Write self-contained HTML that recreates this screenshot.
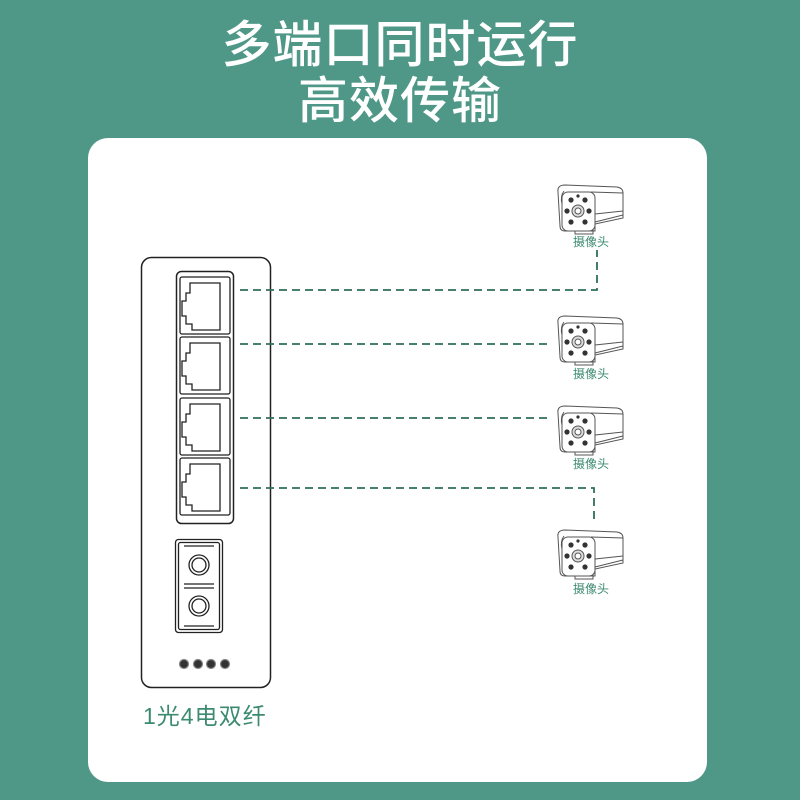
<!DOCTYPE html>
<html><head><meta charset="utf-8"><style>
body{margin:0;width:800px;height:800px;background:#4f9888;overflow:hidden;font-family:"Liberation Sans","Noto Sans CJK SC",sans-serif}
.t{position:absolute;left:0;width:800px;text-align:center;color:#fff;font-size:50px;font-weight:500;letter-spacing:1px;line-height:56px}
.card{position:absolute;left:88px;top:138px;width:619px;height:644px;background:#fff;border-radius:20px}
svg{position:absolute;left:0;top:0}
.lab{font-family:"Liberation Sans","Noto Sans CJK SC",sans-serif;fill:#3c8a70;font-size:12px}
</style></head><body>
<div class="t" style="top:17px">多端口同时运行</div>
<div class="t" style="top:73px">高效传输</div>
<div class="card"></div>
<svg width="800" height="800" viewBox="0 0 800 800">
<defs>
<g id="cam" fill="#fff" stroke="#555" stroke-width="1">
<path d="M3 8 Q2 1 10 1 L62 3 Q68 4 68 9 L68 34 L40 40 L40 47 L10 47 Q5 47 5 42 Z"/>
<path d="M36 8 L68 9 M40 38 L68 31 M40 30 L68 27" fill="none"/>
<path d="M20 47 L20 50 L38 50 L38 45" fill="none"/>
<rect x="7" y="8" width="33" height="39" rx="6"/>
<path d="M9 7 Q5 12 7 20" fill="none"/>
<circle cx="23" cy="27" r="6" fill="#ddd"/>
<circle cx="23" cy="27" r="3" fill="#fff"/>
<g fill="#333" stroke="none">
<circle cx="16" cy="16" r="2.6"/><circle cx="30" cy="16" r="2.6"/>
<circle cx="12" cy="27" r="2.6"/><circle cx="34" cy="27" r="2.6"/>
<circle cx="16" cy="38" r="2.6"/><circle cx="30" cy="38" r="2.6"/>
<circle cx="23" cy="12" r="1.6"/>
</g>
</g>
<g id="port" fill="none" stroke="#222" stroke-width="1.3">
<rect x="180" y="277" width="50" height="57" rx="2"/>
<path d="M190 283 L220 283 L220 330 L192 330 L192 324 L186 324 L186 316 L182 316 L182 301 L186 301 L186 293 L190 293 Z"/>
</g>
</defs>
<!-- device -->
<rect x="141.5" y="257.5" width="129" height="430" rx="10" fill="#fff" stroke="#222" stroke-width="1.5"/>
<rect x="176.5" y="271.5" width="57" height="252" rx="5" fill="#fff" stroke="#222" stroke-width="1.5"/>
<use href="#port"/>
<use href="#port" y="60"/>
<use href="#port" y="121"/>
<use href="#port" y="181"/>
<g fill="none" stroke="#222" stroke-width="1.3">
<rect x="175.5" y="539.5" width="47" height="93" rx="3"/>
<rect x="178.5" y="542.5" width="41" height="87" rx="2"/>
<path d="M184 546 L214 546 M184 584 L214 584 M184 588 L214 588 M184 626 L214 626"/>
<circle cx="199" cy="565" r="10"/><circle cx="199" cy="565" r="7"/>
<circle cx="199" cy="606" r="10"/><circle cx="199" cy="606" r="7"/>
</g>
<g fill="#333" stroke="#888" stroke-width="1.2">
<circle cx="184" cy="664" r="4.5"/><circle cx="198" cy="664" r="4.5"/><circle cx="211" cy="664" r="4.5"/><circle cx="225" cy="664" r="4.5"/>
</g>
<!-- dashed links -->
<g fill="none" stroke="#2f6f5c" stroke-width="1.8" stroke-dasharray="8,5">
<path d="M240 290 L597 290 L597 250"/>
<path d="M240 344 L552 344"/>
<path d="M240 418 L552 418"/>
<path d="M240 488 L594 488 L594 522"/>
</g>
<use href="#cam" x="555" y="184"/>
<use href="#cam" x="555" y="315"/>
<use href="#cam" x="555" y="405"/>
<use href="#cam" x="555" y="529"/>
<text class="lab" x="591" y="246" text-anchor="middle">摄像头</text>
<text class="lab" x="591" y="378" text-anchor="middle">摄像头</text>
<text class="lab" x="591" y="468" text-anchor="middle">摄像头</text>
<text class="lab" x="591" y="593" text-anchor="middle">摄像头</text>
<text x="143" y="724" fill="#3c8a70" font-size="23" letter-spacing="1" style="font-family:'Liberation Sans','Noto Sans CJK SC',sans-serif">1光4电双纤</text>
</svg>
</body></html>
